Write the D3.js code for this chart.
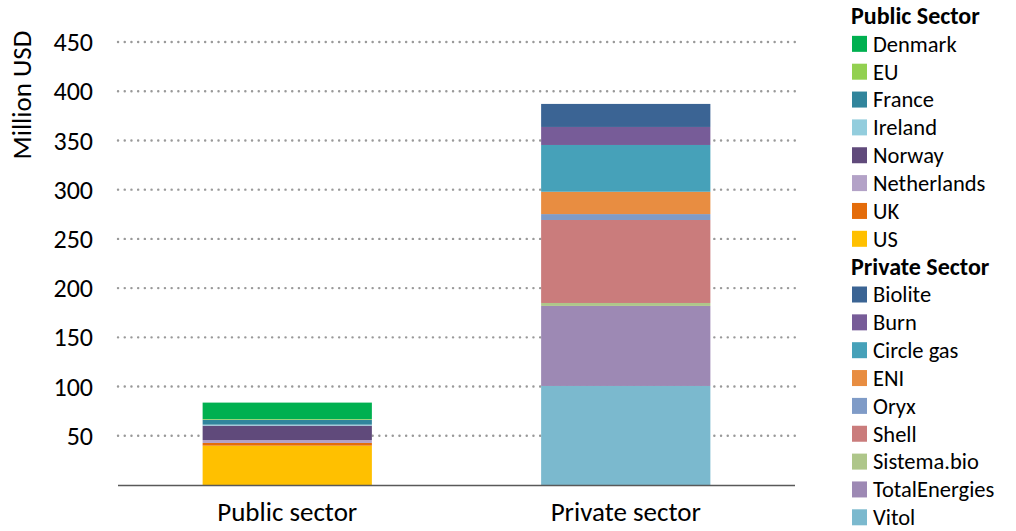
<!DOCTYPE html>
<html>
<head>
<meta charset="utf-8">
<script src="https://cdn.jsdelivr.net/npm/d3@7"></script>
<style>
  body { margin: 0; background: #fff; }
  svg { display: block; font-family: Carlito, Calibri, 'Open Sans', 'Liberation Sans', sans-serif; }
</style>
</head>
<body>
<svg id="chart"></svg>
<script>
const categories = ['Public sector', 'Private sector'];

// stacking order: bottom first
const publicNames = ['US', 'UK', 'Netherlands', 'Norway', 'Ireland', 'France', 'EU', 'Denmark'];
const publicValues = [40, 2.7, 3, 14.6, 1, 5, 0.7, 16.7];
const publicColors = ['#FFC000', '#E46C0A', '#B3A2C7', '#604A7B', '#93CDDD', '#31859C', '#92D050', '#00B050'];

const privateNames = ['Vitol', 'TotalEnergies', 'Sistema.bio', 'Shell', 'Oryx', 'ENI', 'Circle gas', 'Burn', 'Biolite'];
const privateValues = [100.6, 81.3, 3, 84.3, 6, 22.7, 47.5, 18.3, 23.4];
const privateColors = ['#7BB9CE', '#9D89B4', '#AEC68A', '#CA7C7C', '#7F9BC7', '#E88D41', '#46A1B9', '#775C98', '#3B6494'];

const yTicks = [50, 100, 150, 200, 250, 300, 350, 400, 450];

const config = {
  width: 1016,
  height: 531,
  marginLeft: 118,
  plotRight: 795,
  baseline: 485,
  yMaxPx: 42, // pixel of 450
  tickFont: 26,
  catFont: 27,
  legendFont: 22.5,
  legendTitleFont: 24,
};

const c = config;
const svg = d3.select('#chart').attr('width', c.width).attr('height', c.height);

const y = d3.scaleLinear([0, 450], [c.baseline, c.yMaxPx]);
const x = d3.scaleBand(categories, [c.marginLeft, c.plotRight]).paddingInner(0.5).paddingOuter(0.25);

// gridlines
svg.append('g')
  .selectAll('line')
  .data(yTicks)
  .join('line')
  .attr('x1', c.marginLeft)
  .attr('x2', c.plotRight)
  .attr('y1', (d) => y(d))
  .attr('y2', (d) => y(d))
  .attr('stroke', '#999')
  .attr('stroke-width', 2.4)
  .attr('stroke-linecap', 'round')
  .attr('stroke-dasharray', '0.1 6.6');

// y axis labels
svg.append('g')
  .selectAll('text')
  .data(yTicks)
  .join('text')
  .attr('x', 93)
  .attr('y', (d) => y(d))
  .attr('dy', '0.35em')
  .attr('text-anchor', 'end')
  .style('font-size', c.tickFont + 'px')
  .attr('fill', '#000')
  .text((d) => d);

svg.append('text')
  .attr('transform', `translate(22,95) rotate(-90)`)
  .attr('text-anchor', 'middle')
  .attr('dy', '0.35em')
  .style('font-size', '27px')
  .text('Million USD');

// stacks
function drawStack(cat, names, values, colors) {
  let acc = 0;
  const segs = values.map((v, i) => {
    const s = { name: names[i], y0: acc, y1: acc + v, color: colors[i] };
    acc += v;
    return s;
  });
  svg.append('g')
    .selectAll('rect')
    .data(segs)
    .join('rect')
    .attr('x', x(cat))
    .attr('width', x.bandwidth())
    .attr('y', (d) => y(d.y1))
    .attr('height', (d) => y(d.y0) - y(d.y1))
    .attr('fill', (d) => d.color);
}
drawStack('Public sector', publicNames, publicValues, publicColors);
drawStack('Private sector', privateNames, privateValues, privateColors);

// baseline
svg.append('line')
  .attr('x1', c.marginLeft)
  .attr('x2', c.plotRight)
  .attr('y1', c.baseline + 0.5)
  .attr('y2', c.baseline + 0.5)
  .attr('stroke', '#595959')
  .attr('stroke-width', 1.5);

// category labels
svg.append('g')
  .selectAll('text')
  .data(categories)
  .join('text')
  .attr('x', (d) => x(d) + x.bandwidth() / 2)
  .attr('y', 521)
  .attr('text-anchor', 'middle')
  .style('font-size', c.catFont + 'px')
  .text((d) => d);

// legend
const legendRows = [
  { title: 'Public Sector' },
  ...publicNames.map((n, i) => ({ name: n, color: publicColors[i] })).reverse(),
  { title: 'Private Sector' },
  ...privateNames.map((n, i) => ({ name: n, color: privateColors[i] })).reverse(),
];
const legend = svg.append('g').attr('transform', 'translate(851,0)');
const rowH = 27.85;
legendRows.forEach((r, i) => {
  const cy = 16 + i * rowH;
  const g = legend.append('g').attr('transform', `translate(0,${cy})`);
  if (r.title) {
    g.append('text').attr('x', 0).attr('y', 0).attr('dy', '0.35em')
      .style('font-size', c.legendTitleFont + 'px').style('font-weight', 'bold').text(r.title);
  } else {
    g.append('rect').attr('x', 1).attr('y', -8).attr('width', 15).attr('height', 16).attr('fill', r.color);
    g.append('text').attr('x', 22).attr('y', 0).attr('dy', '0.35em')
      .style('font-size', c.legendFont + 'px').text(r.name);
  }
});
</script>
</body>
</html>
